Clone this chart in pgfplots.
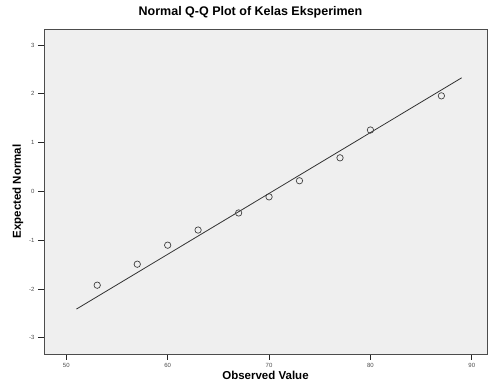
\documentclass[border=0pt]{standalone}
\usepackage{pgfplots}
\pgfplotsset{compat=1.18}
\usepackage{fontspec}
\setmainfont{Liberation Sans}
\definecolor{plotbg}{HTML}{EFEFEF}
\begin{document}
\begin{tikzpicture}
\begin{axis}[
  at={(0pt,0pt)}, anchor=south west,
  scale only axis,
  width=443pt, height=325pt,
  xmin=47.8, xmax=91.5,
  ymin=-3.33, ymax=3.33,
  xtick={50,60,70,80,90},
  ytick={-3,-2,-1,0,1,2,3},
  xtick align=outside, ytick align=outside,
  xtick pos=bottom, ytick pos=left,
  major tick length=6pt,
  every tick/.append style={black!85, line width=1pt},
  axis line style={black!70, line width=0.9pt},
  axis background/.style={fill=plotbg},
  ticklabel style={font=\fontsize{6}{7}\selectfont, text=black!70},
  /pgf/number format/assume math mode=true,
  title={\textbf{Normal Q-Q Plot of Kelas Eksperimen}},
  title style={font=\fontsize{12.5}{14}\selectfont, at={(0.5,1)}, anchor=base, yshift=7pt, xshift=-15pt},
  xlabel={\textbf{Observed Value}},
  ylabel={\textbf{Expected Normal}},
  label style={font=\fontsize{11.5}{13}\selectfont},
  xlabel style={yshift=3pt},
  ylabel style={yshift=-1pt},
  clip=false,
]
\addplot[black!80, line width=0.8pt] coordinates {(51.0,-2.41) (89.0,2.33)};
\addplot[only marks, mark=o, mark size=3.2pt, mark options={black!75, line width=0.7pt}] coordinates {
(53.05,-1.92) (57.0,-1.49) (60.0,-1.10) (63.0,-0.79) (67.0,-0.44)
(70.0,-0.11) (73.0,0.22) (77.0,0.69) (80.0,1.26) (87.0,1.96)};
\end{axis}
\useasboundingbox (-44pt,-36pt) rectangle (446pt,354pt);
\end{tikzpicture}
\end{document}
